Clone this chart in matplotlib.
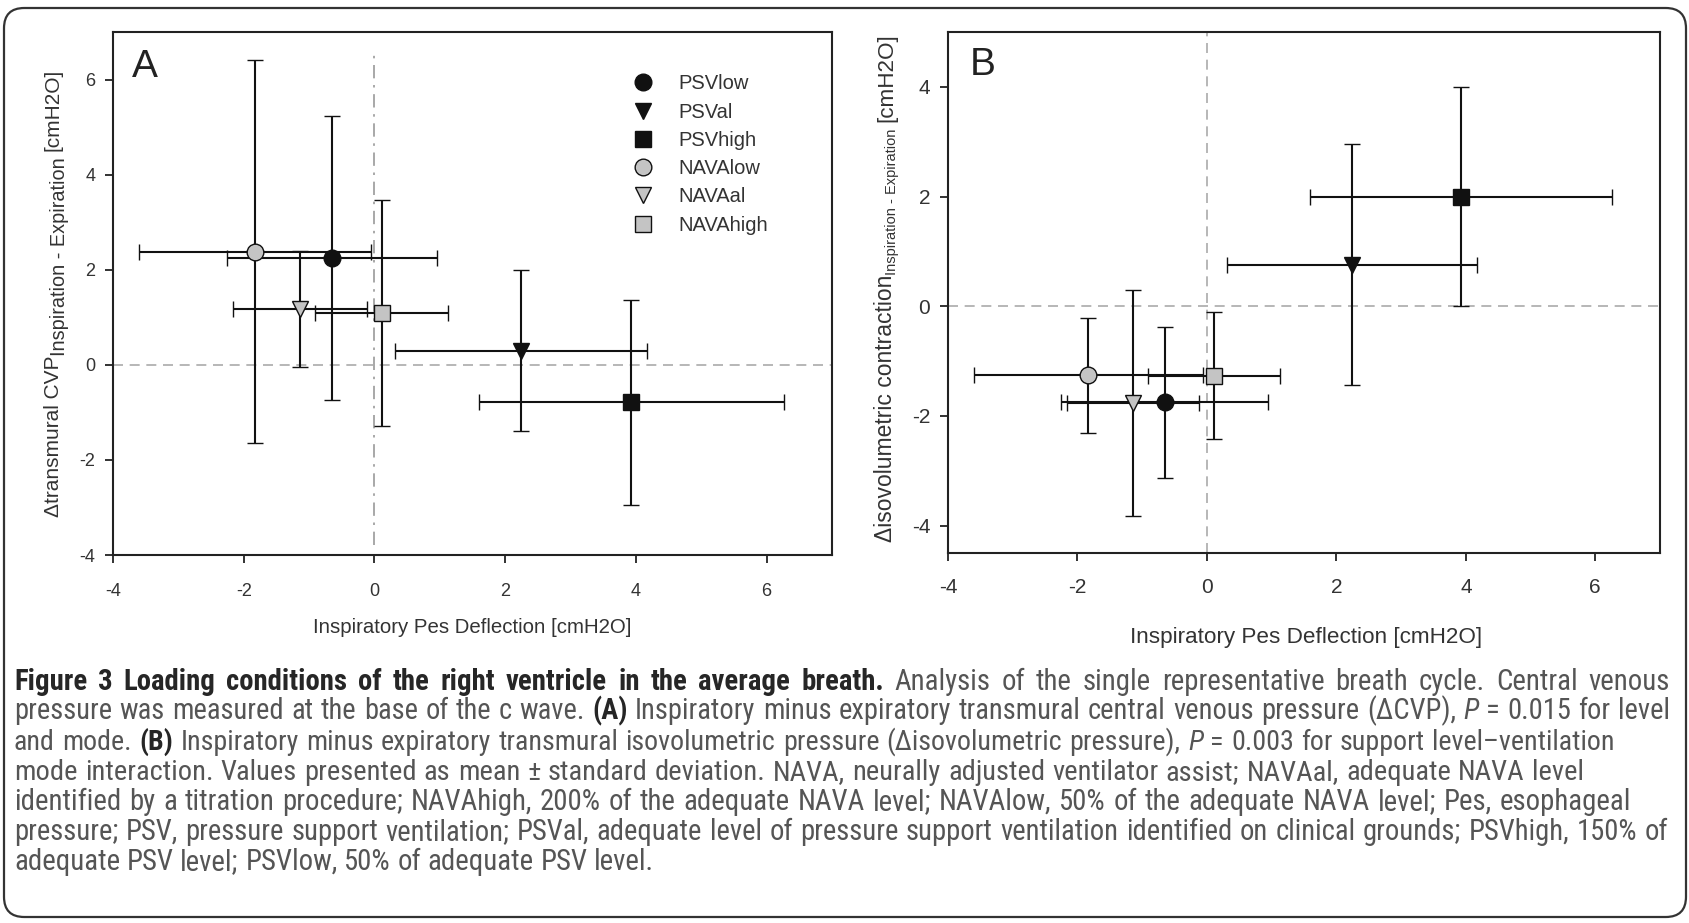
import matplotlib
matplotlib.use('Agg')
import matplotlib.pyplot as plt
from matplotlib import font_manager
from matplotlib.patches import FancyBboxPatch
from matplotlib.lines import Line2D

fonts = font_manager.fontManager.ttflist
names = {f.name for f in fonts}
def pick(*c):
    for n in c:
        if n in names:
            return n
    return 'DejaVu Sans'
def has_regular(n):
    faces = [f for f in fonts if f.name == n]
    w = lambda f: f.weight if isinstance(f.weight, int) else 400
    reg = any(w(f) <= 400 and f.style == 'normal' for f in faces)
    bold = any(w(f) >= 600 for f in faces)
    ita = any(f.style in ('italic', 'oblique') for f in faces)
    return reg and bold and ita
SANS = pick('Liberation Sans', 'Arial', 'DejaVu Sans')
CAP = 'DejaVu Sans'
for cand in ['Roboto Condensed', 'Noto Sans Condensed', 'Liberation Sans Narrow',
             'Lato', 'Open Sans', 'Noto Sans']:
    if cand in names and has_regular(cand):
        CAP = cand
        break
plt.rcParams['axes.unicode_minus'] = False

# ---------------- data ----------------
series = ['PSVlow', 'PSVal', 'PSVhigh', 'NAVAlow', 'NAVAal', 'NAVAhigh']
pes_mean = [-0.65, 2.24, 3.93, -1.83, -1.14, 0.11]
pes_sd = [1.60, 1.93, 2.33, 1.77, 1.02, 1.02]
cvp_mean = [2.25, 0.30, -0.79, 2.38, 1.17, 1.09]
cvp_sd = [2.98, 1.70, 2.15, 4.03, 1.22, 2.37]
iso_mean = [-1.75, 0.76, 2.00, -1.26, -1.76, -1.27]
iso_sd = [1.38, 2.19, 2.00, 1.05, 2.06, 1.16]
markers = ['o', 'v', 's', 'o', 'v', 's']
faces = ['#111111', '#111111', '#111111', '#c4c4c4', '#c4c4c4', '#c4c4c4']
xticks = [-4, -2, 0, 2, 4, 6]
yticksA = [-4, -2, 0, 2, 4, 6]
yticksB = [-4, -2, 0, 2, 4]

W, H = 1690, 923
fig = plt.figure(figsize=(W / 100, H / 100), dpi=100)
fig.patch.set_facecolor('white')

axA = fig.add_axes([113 / W, 1 - 555 / H, 719 / W, 523 / H])
axB = fig.add_axes([948 / W, 1 - 553 / H, 712 / W, 521 / H])

TXT = '#333333'

def draw(ax, ymeans, ysds, ticksize, xpad):
    for i, name in enumerate(series):
        ax.errorbar(pes_mean[i], ymeans[i], xerr=pes_sd[i], yerr=ysds[i],
                    fmt=markers[i], ms=12, mfc=faces[i], mec='#111111', mew=1.0,
                    ecolor='#111111', elinewidth=1.5, capsize=5.5, capthick=1.5,
                    zorder=3)
    ax.set_xlim(-4, 7)
    ax.set_xticks(xticks)
    for s in ['top', 'right', 'left', 'bottom']:
        ax.spines[s].set_linewidth(1.5)
        ax.spines[s].set_color('#222222')
    ax.tick_params(direction='out', length=5.8, width=1.3, labelsize=ticksize,
                   colors='#222222', labelcolor=TXT, top=False, right=False)
    ax.tick_params(axis='x', pad=xpad)
    ax.tick_params(axis='y', pad=7)
    for lab in ax.get_xticklabels() + ax.get_yticklabels():
        lab.set_family(SANS)

# Panel A
draw(axA, cvp_mean, cvp_sd, 13, 14)
axA.set_ylim(-4, 7)
axA.set_yticks(yticksA)
axA.axhline(0, color='#aaaaaa', lw=1.2, ls=(0, (6, 4)), zorder=1)
axA.axvline(0, ymin=(-3.8 + 4) / 11, ymax=(6.6 + 4) / 11, color='#999999',
            lw=1.2, ls=(0, (8, 4, 1.5, 4)), zorder=1)
axA.set_xlabel('Inspiratory Pes Deflection [cmH2O]', family=SANS,
               fontsize=14.7, color=TXT)
axA.xaxis.set_label_coords(0.5, -0.120)
axA.text(0.026, 0.914, 'A', transform=axA.transAxes, fontsize=28, family=SANS,
         va='baseline', ha='left', color='#222222')
handles = [Line2D([], [], ls='none', marker=markers[i], ms=12, mfc=faces[i],
                  mec='#111111', mew=1.0) for i in range(len(series))]
leg = axA.legend(handles, series, loc='upper left', bbox_to_anchor=(0.7227, 0.919),
                 frameon=False, handlelength=1.0, handletextpad=1.25,
                 labelspacing=0.46, borderpad=0, borderaxespad=0,
                 prop={'family': SANS, 'size': 14.5})
for t in leg.get_texts():
    t.set_color(TXT)

# Panel B
draw(axB, iso_mean, iso_sd, 15, 12.5)
axB.set_ylim(-4.5, 5)
axB.set_yticks(yticksB)
axB.axhline(0, color='#aaaaaa', lw=1.2, ls=(0, (6, 4)), zorder=1)
axB.axvline(0, color='#aaaaaa', lw=1.2, ls=(0, (6, 4)), zorder=1)
axB.set_xlabel('Inspiratory Pes Deflection [cmH2O]', family=SANS,
               fontsize=16.2, color=TXT)
axB.xaxis.set_label_coords(0.503, -0.142)
axB.text(0.031, 0.9175, 'B', transform=axB.transAxes, fontsize=28, family=SANS,
         va='baseline', ha='left', color='#222222')

# outer rounded frame
frame = FancyBboxPatch((4 / W, 6 / H), (W - 8) / W, (H - 14) / H,
                       boxstyle='round,pad=0,rounding_size=0.012',
                       transform=fig.transFigure, fill=False, lw=1.6,
                       edgecolor='#333333', mutation_aspect=W / H)
fig.patches.append(frame)

fig.canvas.draw()
rend = fig.canvas.get_renderer()

def width_of(txt, **kw):
    t = fig.text(0, 0, txt, **kw)
    w = t.get_window_extent(renderer=rend).width
    t.remove()
    return w

# ---------------- rotated y labels with subscripts ----------------
def vlabel(y_start, parts):
    y = y_start
    for txt, size, xb, lead in parts:
        kw = dict(fontsize=size, family=SANS, color=TXT)
        if lead:
            y -= width_of('a a', **kw) - width_of('aa', **kw)
        fig.text(xb / W, 1 - y / H, txt, rotation=90, rotation_mode='anchor',
                 ha='left', va='baseline', **kw)
        y -= width_of(txt, **kw)

vlabel(517, [('\u0394transmural CVP', 15, 59, False),
             ('Inspiration - Expiration', 14.3, 65, False),
             ('[cmH2O]', 15, 59, True)])
vlabel(542, [('\u0394isovolumetric contraction', 16.5, 892, False),
             ('Inspiration - Expiration', 10.5, 896, False),
             ('[cmH2O]', 16.2, 892, True)])

# ---------------- caption ----------------
B_, R_, I_ = 'b', 'r', 'i'
caption_lines = [
    [('Figure 3 Loading conditions of the right ventricle in the average breath.', B_),
     ('Analysis of the single representative breath cycle. Central venous', R_)],
    [('pressure was measured at the base of the c wave.', R_), ('(A)', B_),
     ('Inspiratory minus expiratory transmural central venous pressure (\u0394CVP),', R_),
     ('P', I_), ('= 0.015 for level', R_)],
    [('and mode.', R_), ('(B)', B_),
     ('Inspiratory minus expiratory transmural isovolumetric pressure (\u0394isovolumetric pressure),', R_),
     ('P', I_), ('= 0.003 for support level\u2013ventilation', R_)],
    [('mode interaction. Values presented as mean \u00b1 standard deviation. NAVA, neurally adjusted ventilator assist; NAVAal, adequate NAVA level', R_)],
    [('identified by a titration procedure; NAVAhigh, 200% of the adequate NAVA level; NAVAlow, 50% of the adequate NAVA level; Pes, esophageal', R_)],
    [('pressure; PSV, pressure support ventilation; PSVal, adequate level of pressure support ventilation identified on clinical grounds; PSVhigh, 150% of', R_)],
    [('adequate PSV level; PSVlow, 50% of adequate PSV level.', R_)],
]
line_y = [690, 719, 750, 780, 810, 840, 870]
line_end = [1670, 1670, 1615, 1584, 1631, 1668, None]
X0 = 14

def seg_props(style, size):
    p = dict(fontsize=size, family=CAP, color='#555555')
    if style == 'b':
        p.update(weight='bold', color='#262626')
    if style == 'i':
        p.update(style='italic')
    return p

def words_of(segs):
    out = []
    for s, st in segs:
        for w in s.split(' '):
            out.append((w, st))
    return out

def natural(segs, size):
    ws = words_of(segs)
    sp = width_of('a a', **seg_props('r', size)) - width_of('aa', **seg_props('r', size))
    return sum(width_of(w, **seg_props(st, size)) for w, st in ws) + sp * (len(ws) - 1)

base = 14
fits = [base * (e - X0) / natural(segs, base) if e else None
        for segs, e in zip(caption_lines, line_end)]
valid = sorted(f for f in fits if f)
common = valid[len(valid) // 2]

for segs, yp, e, fit in zip(caption_lines, line_y, line_end, fits):
    size = min(common, fit * 0.995) if fit else common
    space = width_of('a a', **seg_props('r', size)) - width_of('aa', **seg_props('r', size))
    ws = words_of(segs)
    wds = [width_of(w, **seg_props(st, size)) for w, st in ws]
    gap = (e - X0 - sum(wds)) / (len(ws) - 1) if e else space
    x = X0
    for (w, st), wd in zip(ws, wds):
        fig.text(x / W, 1 - yp / H, w, ha='left', va='baseline', **seg_props(st, size))
        x += wd + gap

fig.savefig('out.png', dpi=100, facecolor='white')
